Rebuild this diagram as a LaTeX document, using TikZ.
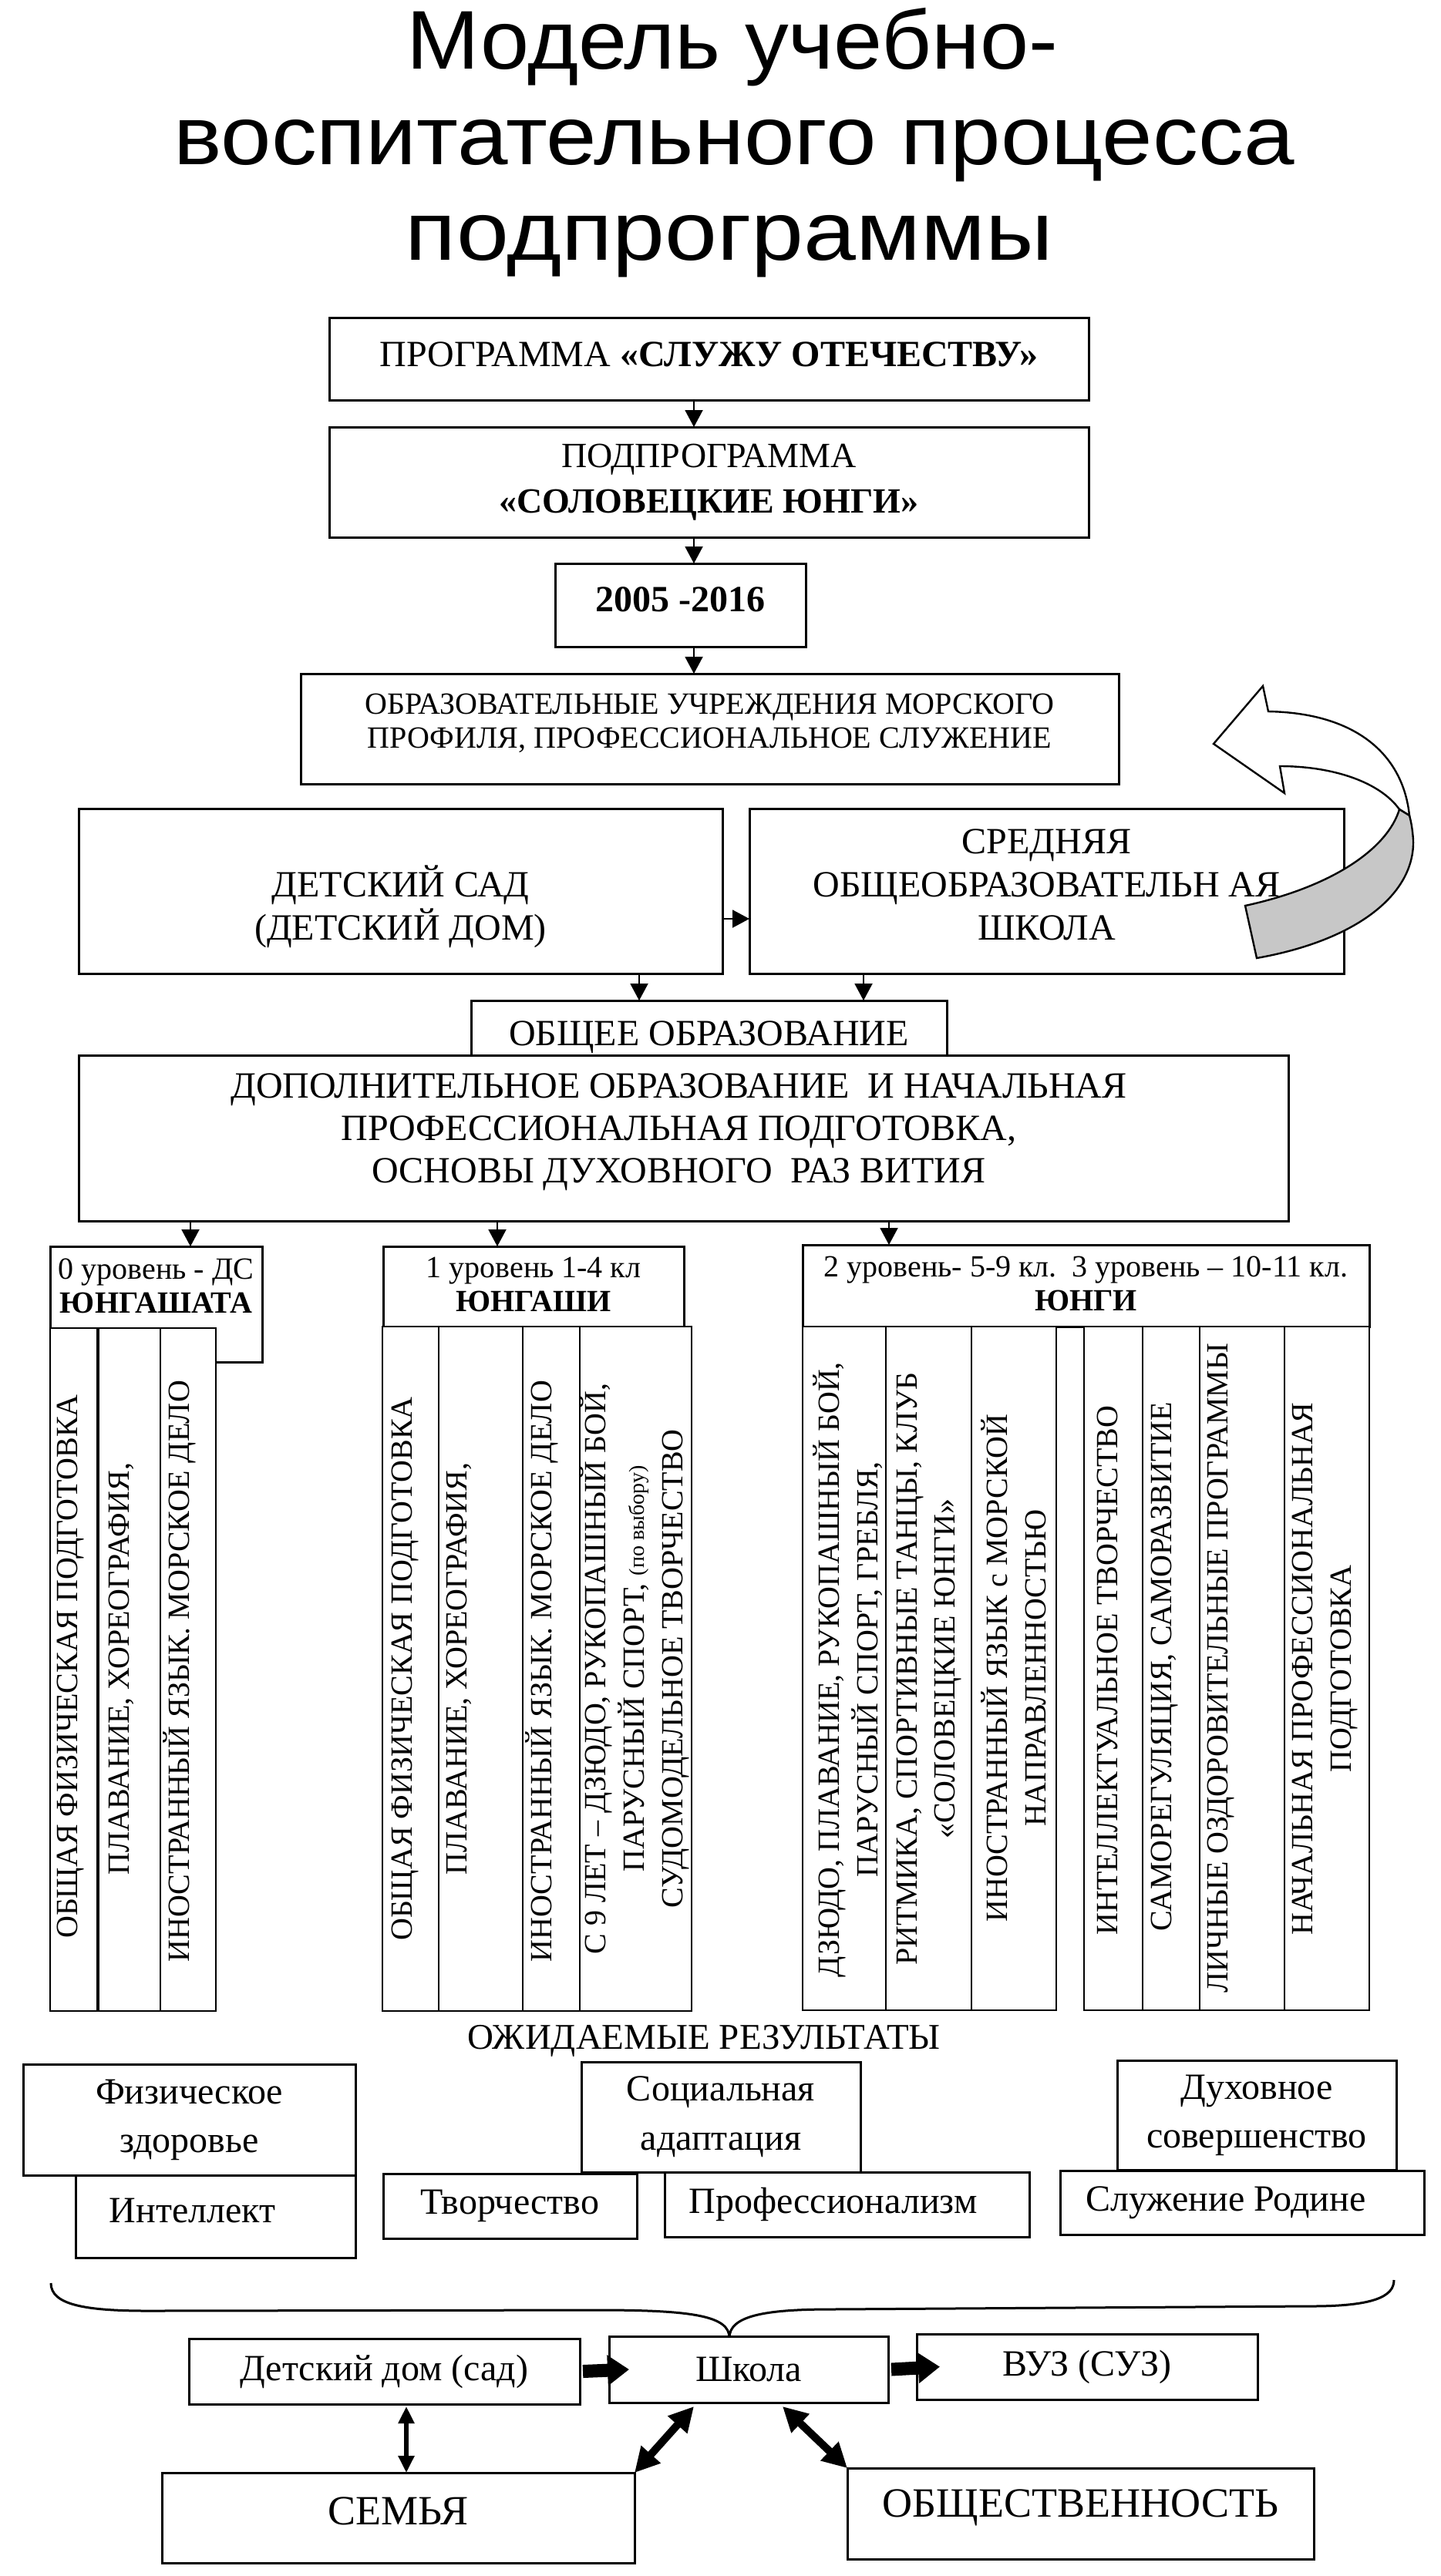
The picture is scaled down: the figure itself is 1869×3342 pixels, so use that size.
\documentclass[tikz,border=0pt]{standalone}
\usepackage{fontspec}
\setmainfont{Liberation Serif}
\newfontfamily\titlefont{Liberation Sans}
\usetikzlibrary{arrows.meta,calc}
\newcommand\fs[2]{\fontsize{#1}{#2}\selectfont}
\newcommand\bnode[7][]{%
  \node[box,minimum width={(#5-#3)*0.25pt},minimum height={(#6-#4)*0.25pt}] (#2) at ({(#3+#5)/2},{(#4+#6)/2}) {};%
  \node[txt,#1] (#2t) at (#2.center) {#7};}
\begin{document}
\begin{tikzpicture}[x=0.25pt,y=-0.25pt,
  box/.style={draw,line width=0.75pt,fill=white,inner sep=0pt,outer sep=0pt},
  txt/.style={align=center,inner sep=0pt,font=\fs{12}{14}},
  cell/.style={draw,line width=0.6pt,fill=white},
  rt/.style={rotate=90,align=center,inner sep=0pt,font=\fs{10}{12.5}},
  arr/.style={line width=0.5pt,-{Triangle[length=5.5pt,width=5.75pt]}},
  blockarr/.style={line width=4.25pt,-{Triangle[length=7pt,width=9.5pt]}},
  dbl/.style={line width=2.5pt,{Triangle[length=8pt,width=8pt]}-{Triangle[length=8pt,width=8pt]}},
  vdbl/.style={line width=1.5pt,{Triangle[length=5.5pt,width=5pt]}-{Triangle[length=5.5pt,width=5pt]}}]
\useasboundingbox (0,0) rectangle (1869,3342);

% title
\node[anchor=base,inner sep=0pt,font=\titlefont\fs{27}{31}] (t1) at (950,89) {\scalebox{1.05}[1]{Модель учебно-}};
\node[anchor=base,inner sep=0pt,font=\titlefont\fs{27}{31}] (t2) at (952,213) {\scalebox{1.09}[1]{воспитательного процесса}};
\node[anchor=base,inner sep=0pt,font=\titlefont\fs{27}{31}] (t3) at (946,337) {\scalebox{1.13}[1]{подпрограммы}};

% upper chain
\bnode[yshift=1.5pt]{prog}{427}{412}{1412}{519}{ПРОГРАММА \textbf{«СЛУЖУ ОТЕЧЕСТВУ»}}
\bnode[font=\fs{11.5}{14.75}]{sub}{427}{554}{1412}{697}{ПОДПРОГРАММА\\\textbf{«СОЛОВЕЦКИЕ ЮНГИ»}}
\bnode[yshift=1.75pt]{years}{720}{731}{1045}{839}{\textbf{2005 -2016}}
\bnode[yshift=1.75pt,font=\fs{10}{11}]{inst}{390}{874}{1451}{1017}{ОБРАЗОВАТЕЛЬНЫЕ УЧРЕЖДЕНИЯ МОРСКОГО\\ПРОФИЛЯ, ПРОФЕССИОНАЛЬНОЕ СЛУЖЕНИЕ}
\coordinate (ax) at (900,0);
\draw[arr] (prog.south -| ax) -- (sub.north -| ax);
\draw[arr] (sub.south -| ax) -- (years.north -| ax);
\draw[arr] (years.south -| ax) -- (inst.north -| ax);

\bnode[yshift=-5pt]{ds}{102}{1049}{937}{1263}{ДЕТСКИЙ САД\\(ДЕТСКИЙ ДОМ)}
\bnode[yshift=2pt]{sch}{972}{1049}{1743}{1263}{СРЕДНЯЯ\\ОБЩЕОБРАЗОВАТЕЛЬН АЯ\\ШКОЛА}
\coordinate (ay) at (0,1192);
\draw[arr] (ds.east |- ay) -- (sch.west |- ay);

% curved arrow
\draw[line width=0.6pt,fill=white] (1645,923) .. controls (1760,925) and (1820,980) .. (1828,1058)
  -- (1815,1050) .. controls (1790,1015) and (1730,994) .. (1660,994)
  -- (1666,1029) -- (1574,965) -- (1638,890) -- cycle;
\draw[line width=0.6pt,fill=black!22] (1815,1050) .. controls (1800,1100) and (1730,1150) .. (1615,1175)
  -- (1630,1243) .. controls (1760,1220) and (1835,1160) .. (1833,1090)
  .. controls (1832,1075) and (1830,1065) .. (1828,1058) -- cycle;

\bnode[yshift=-3pt]{obsh}{611}{1298}{1228}{1369}{ОБЩЕЕ ОБРАЗОВАНИЕ}
\coordinate (b1) at (829,0);
\coordinate (b2) at (1120,0);
\draw[arr] (ds.south -| b1) -- (obsh.north -| b1);
\draw[arr] (sch.south -| b2) -- (obsh.north -| b2);
\bnode[yshift=2pt,xshift=-1.5pt,font=\fs{12}{13.75}]{dop}{102}{1369}{1671}{1584}{ДОПОЛНИТЕЛЬНОЕ ОБРАЗОВАНИЕ\ \ И НАЧАЛЬНАЯ\\ПРОФЕССИОНАЛЬНАЯ ПОДГОТОВКА,\\ОСНОВЫ ДУХОВНОГО\ \ РАЗ ВИТИЯ}

% level headers
\bnode[yshift=6pt,font=\fs{10}{11}]{h0}{65}{1617}{340}{1767}{0 уровень - ДС\\\textbf{ЮНГАШАТА}}
\bnode[yshift=0.75pt,font=\fs{10}{11}]{h1}{497}{1617}{887}{1721}{1 уровень 1-4 кл\\\textbf{ЮНГАШИ}}
\bnode[yshift=0.75pt,font=\fs{10}{11}]{h2}{1041}{1615}{1776}{1721}{2 уровень- 5-9 кл.\ \ 3 уровень – 10-11 кл.\\\textbf{ЮНГИ}}
\coordinate (c0) at (247,0);
\coordinate (c1) at (645,0);
\coordinate (c2) at (1153,0);
\draw[arr] (dop.south -| c0) -- (h0.north -| c0);
\draw[arr] (dop.south -| c1) -- (h1.north -| c1);
\draw[arr] (dop.south -| c2) -- (h2.north -| c2);

% level 0 cells
\draw[cell] (65,1723) rectangle (127,2609);
\draw[cell] (127,1723) rectangle (208,2609);
\draw[cell] (208,1723) rectangle (280,2609);
\draw[line width=1pt] (127,1723) -- (127,2609);
\node[rt] (r01) at (92,2162) {ОБЩАЯ ФИЗИЧЕСКАЯ ПОДГОТОВКА};
\node[rt] (r02) at (157,2165) {ПЛАВАНИЕ, ХОРЕОГРАФИЯ,};
\node[rt] (r03) at (233,2168) {ИНОСТРАННЫЙ ЯЗЫК. МОРСКОЕ ДЕЛО};

% level 1 cells
\draw[cell] (496,1721) rectangle (569,2609);
\draw[cell] (569,1721) rectangle (678,2609);
\draw[cell] (678,1721) rectangle (752,2609);
\draw[cell] (752,1721) rectangle (897,2609);
\node[rt] (r11) at (525,2165) {ОБЩАЯ ФИЗИЧЕСКАЯ ПОДГОТОВКА};
\node[rt] (r12) at (595,2165) {ПЛАВАНИЕ, ХОРЕОГРАФИЯ,};
\node[rt] (r13) at (703,2168) {ИНОСТРАННЫЙ ЯЗЫК. МОРСКОЕ ДЕЛО};
\node[rt] (r14) at (823,2165) {С 9 ЛЕТ – ДЗЮДО, РУКОПАШНЫЙ БОЙ,\\ПАРУСНЫЙ СПОРТ, {\fs{7}{12.5}(по выбору)}\\СУДОМОДЕЛЬНОЕ ТВОРЧЕСТВО};

% level 2 cells
\draw[cell] (1041,1721) rectangle (1149,2608);
\draw[cell] (1149,1721) rectangle (1260,2608);
\draw[cell] (1260,1721) rectangle (1370,2608);
\draw[cell] (1406,1721) rectangle (1482,2608);
\draw[cell] (1482,1721) rectangle (1556,2608);
\draw[cell] (1556,1721) rectangle (1666,2608);
\draw[cell] (1666,1721) rectangle (1776,2608);
\node[rt] (r21) at (1100,2166) {ДЗЮДО, ПЛАВАНИЕ, РУКОПАШНЫЙ БОЙ,\\ПАРУСНЫЙ СПОРТ, ГРЕБЛЯ,};
\node[rt] (r22) at (1205,2165) {РИТМИКА, СПОРТИВНЫЕ ТАНЦЫ, КЛУБ\\«СОЛОВЕЦКИЕ ЮНГИ»};
\node[rt] (r23) at (1315,2164) {ИНОСТРАННЫЙ ЯЗЫК с МОРСКОЙ\\НАПРАВЛЕННОСТЬЮ};
\node[rt] (r24) at (1436,2167) {ИНТЕЛЛЕКТУАЛЬНОЕ ТВОРЧЕСТВО};
\node[rt] (r25) at (1510,2162) {САМОРЕГУЛЯЦИЯ, САМОРАЗВИТИЕ};
\node[rt] (r26) at (1583,2164) {ЛИЧНЫЕ ОЗДОРОВИТЕЛЬНЫЕ ПРОГРАММЫ};
\node[rt] (r27) at (1718,2165) {НАЧАЛЬНАЯ ПРОФЕССИОНАЛЬНАЯ\\ПОДГОТОВКА};

% expected results
\node[txt,font=\fs{11.75}{14}] (res) at (913,2648) {ОЖИДАЕМЫЕ РЕЗУЛЬТАТЫ};
\bnode[font=\fs{12}{15.75}]{fiz}{30}{2678}{461}{2822}{Физическое\\здоровье}
\bnode[xshift=-7.5pt,yshift=2pt]{intl}{98}{2822}{461}{2929}{Интеллект}
\bnode[font=\fs{12}{16}]{soc}{754}{2675}{1116}{2818}{Социальная\\адаптация}
\bnode{tvo}{497}{2820}{826}{2904}{Творчество}
\bnode[xshift=-4.5pt]{prof}{862}{2818}{1335}{2902}{Профессионализм}
\bnode[font=\fs{12}{15.75}]{duh}{1449}{2673}{1811}{2815}{Духовное\\совершенство}
\bnode[xshift=-5.25pt]{slu}{1375}{2816}{1847}{2899}{Служение Родине}

% brace
\draw[line width=0.75pt] (66,2962) .. controls (66,2990) and (110,2998) .. (192,2998) -- (778,2997)
  .. controls (900,2997) and (946,3005) .. (946,3033)
  .. controls (946,3005) and (990,2996) .. (1078,2996) -- (1700,2992)
  .. controls (1780,2992) and (1808,2980) .. (1808,2958);

% bottom
\bnode{dd}{245}{3034}{752}{3119}{Детский дом (сад)}
\bnode{school}{790}{3031}{1152}{3117}{Школа}
\bnode{vuz}{1189}{3028}{1631}{3113}{ВУЗ (СУЗ)}
\bnode[yshift=2.25pt,font=\fs{13.5}{16}]{semya}{210}{3208}{823}{3325}{СЕМЬЯ}
\bnode[yshift=2pt,font=\fs{13.5}{16}]{obshch}{1099}{3202}{1704}{3320}{ОБЩЕСТВЕННОСТЬ}
\draw[blockarr] ([xshift=1pt]dd.east) -- ([xshift=6.5pt]school.west);
\draw[blockarr] ([xshift=1pt]school.east) -- ([xshift=7.5pt]vuz.west);
\coordinate (vx) at (527,0);
\draw[vdbl] ($(dd.south -| vx)+(0,3)$) -- (semya.north -| vx);
\draw[dbl] ($(school.south)+(-71,5)$) -- (semya.north east);
\draw[dbl] ($(school.south)+(44,5)$) -- (obshch.north west);
\end{tikzpicture}
\end{document}
